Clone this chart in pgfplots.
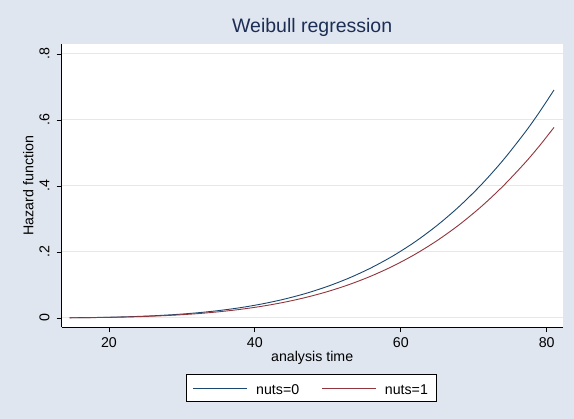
\documentclass[border=0pt]{standalone}
\usepackage{fontspec}
\setmainfont{Liberation Sans}
\usepackage{pgfplots}
\pgfplotsset{compat=1.18}
\definecolor{bgc}{RGB}{224,230,240}
\definecolor{gridc}{RGB}{226,232,241}
\definecolor{navyc}{RGB}{26,71,111}
\definecolor{maroonc}{RGB}{144,53,59}
\definecolor{titlec}{RGB}{28,46,84}
\begin{document}
\begin{tikzpicture}[x=1pt,y=1pt]
\fill[bgc] (0,0) rectangle (574,419);
\begin{axis}[
  at={(61.7pt,91.7pt)}, anchor=south west,
  scale only axis, width=501pt, height=283.3pt,
  xmin=13.52, xmax=82.19, ymin=-0.0282, ymax=0.8303,
  axis x line*=bottom, axis y line*=left,
  axis line style={black, line width=0.8pt},
  axis background/.style={fill=white},
  xtick={20,40,60,80}, ytick={0,0.2,0.4,0.6,0.8},
  yticklabels={0,.2,.4,.6,.8},
  tick align=outside, major tick length=5pt,
  tick style={black, line width=0.8pt},
  ymajorgrids, grid style={gridc, line width=1pt},
  /pgf/number format/assume math mode=true,
  ticklabel style={font=\fontsize{14.2}{16}\selectfont},
  xticklabel style={anchor=north, inner sep=0pt, yshift=-5.2pt},
  yticklabel style={rotate=90, anchor=base, inner sep=0pt, yshift=7.4pt},
  title={Weibull regression},
  title style={at={(0.5,1)}, anchor=base, yshift=5.7pt, inner sep=0pt, font=\fontsize{19.5}{22}\selectfont, text=titlec},
  xlabel={analysis time},
  xlabel style={at={(0.5,0)}, anchor=base, yshift=-34.6pt, inner sep=0pt, font=\fontsize{14.2}{16}\selectfont},
  ylabel={Hazard function},
  ylabel style={at={(0,0.5)}, anchor=base, yshift=28.4pt, inner sep=0pt, font=\fontsize{14.2}{16}\selectfont},
]
\addplot[color=navyc, line width=0.9pt, smooth] coordinates {
(14.6,0.000625) (17,0.001165) (20,0.002264) (23,0.004011) (26,0.006625) (29,0.010357)
(32,0.015485) (35,0.022342) (38,0.031278) (41,0.042681) (44,0.056966) (47,0.074583)
(50,0.096071) (53,0.12194) (56,0.15276) (59,0.18906) (62,0.23155) (65,0.28100)
(68,0.33793) (71,0.40321) (74,0.47763) (77,0.56180) (79,0.62381) (81,0.691)
};
\addplot[color=maroonc, line width=0.9pt, smooth] coordinates {
(14.6,0.000523) (17,0.000974) (20,0.001893) (23,0.003353) (26,0.005539) (29,0.008658)
(32,0.012945) (35,0.018678) (38,0.026148) (41,0.035681) (44,0.047624) (47,0.062351)
(50,0.080315) (53,0.10194) (56,0.12771) (59,0.15805) (62,0.19358) (65,0.23492)
(68,0.28251) (71,0.33708) (74,0.39930) (77,0.46966) (79,0.52150) (81,0.57768)
};
\end{axis}
% legend
\draw[black, line width=0.8pt, fill=white] (186.7,18) rectangle (436.7,44.7);
\draw[navyc, line width=0.9pt] (193,31) -- (246.7,31);
\node[anchor=base west, inner sep=0pt, font=\fontsize{14.2}{16}\selectfont] at (256,24.3) {nuts=0};
\draw[maroonc, line width=0.9pt] (322,31) -- (375.7,31);
\node[anchor=base west, inner sep=0pt, font=\fontsize{14.2}{16}\selectfont] at (384.7,24.3) {nuts=1};
\pgfresetboundingbox
\useasboundingbox (0,0) rectangle (574,419);
\end{tikzpicture}
\end{document}
